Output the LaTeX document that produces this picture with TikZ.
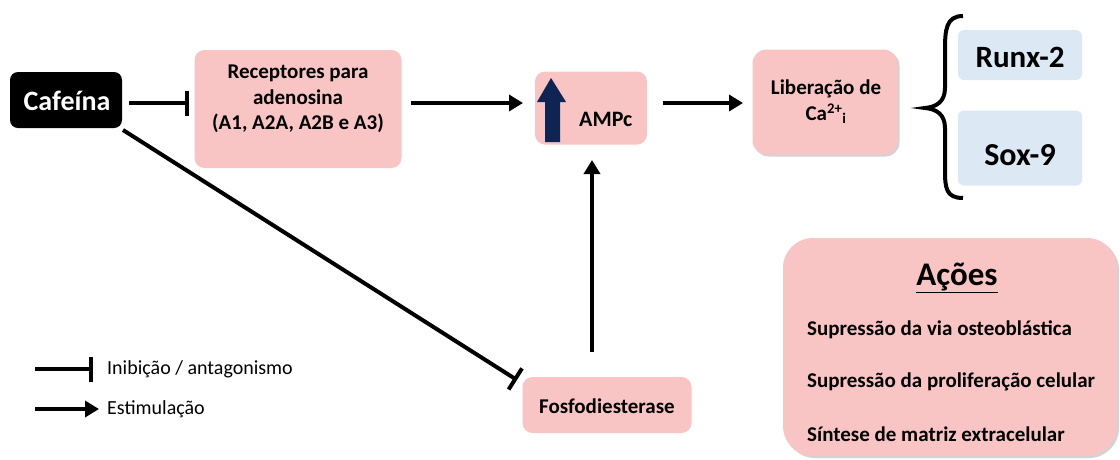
\documentclass[tikz,border=0pt]{standalone}
\usepackage{fontspec}
\setmainfont{Carlito}
\usetikzlibrary{arrows.meta,shadows}
\definecolor{pinkbox}{RGB}{248,196,196}
\definecolor{bluebox}{RGB}{220,232,244}
\definecolor{navy}{RGB}{16,36,84}
\begin{document}
\begin{tikzpicture}[x=1pt,y=-1pt,
  pbox/.style={fill=pinkbox,rounded corners=10pt,align=center,font=\bfseries,inner sep=0pt},
  bbox/.style={fill=bluebox,rounded corners=6pt,align=center,font=\bfseries,inner sep=0pt},
  txt/.style={inner sep=0pt},
  inh/.style={line width=4pt,-{Bar[width=25pt,line width=4pt]}},
  stim/.style={line width=4pt,-{Triangle[length=14pt,width=16pt]}},
  shd/.style={drop shadow={opacity=0.35,shadow xshift=2pt,shadow yshift=-2pt}}]
\useasboundingbox (0,0) rectangle (1120,459);
% nodes
\node[fill=black,rounded corners=8pt,minimum width=112pt,minimum height=56pt] (caf) at (66,100) {};
\node[txt,text=white,font=\bfseries\fontsize{28}{32}\selectfont] (caftxt) at (67,101) {Cafeína};
\node[pbox,minimum width=207pt,minimum height=118pt] (rec) at (298,109) {};
\node[txt,align=center,font=\bfseries\fontsize{21}{25.5}\selectfont] (rectxt) at (298,99) {Receptores para\\adenosina\\(A1, A2A, A2B e A3)};
\node[pbox,minimum width=112pt,minimum height=73pt] (amp) at (591,108) {};
\node[txt,font=\bfseries\fontsize{22}{24}\selectfont,anchor=west] (amptxt) at (579,119) {AMPc};
\fill[navy] (545,142) -- (545,102) -- (537,102) -- (551,78) -- (566,102) -- (560,102) -- (560,142) -- cycle;
\node[pbox,shd,minimum width=145pt,minimum height=105pt,rounded corners=14pt] (lib) at (825,102) {};
\node[txt,align=center,font=\bfseries\fontsize{21}{26}\selectfont] (libtxt) at (826,102) {Liberação de\\Ca\textsuperscript{2+}\textsubscript{i}};
\node[bbox,minimum width=124pt,minimum height=50pt] (runx) at (1020,55) {};
\node[txt,font=\bfseries\fontsize{31}{34}\selectfont] (runxtxt) at (1020,57) {Runx-2};
\node[bbox,minimum width=124pt,minimum height=75pt] (sox) at (1020,148) {};
\node[txt,font=\bfseries\fontsize{32}{34}\selectfont] (soxtxt) at (1020,155) {Sox-9};
\node[pbox,minimum width=169pt,minimum height=56pt] (fos) at (607,405) {};
\node[txt,font=\bfseries\fontsize{21}{24}\selectfont] (fostxt) at (607,406) {Fosfodiesterase};
\node[pbox,shd,minimum width=334pt,minimum height=218pt,rounded corners=30pt] (acoes) at (950,347) {};
\node[txt,font=\bfseries\fontsize{33}{36}\selectfont] (acti) at (957,278) {\underline{Ações}};
\node[txt,font=\bfseries\fontsize{21}{24}\selectfont,anchor=west] (a1) at (807,330) {Supressão da via osteoblástica};
\node[txt,font=\bfseries\fontsize{21}{24}\selectfont,anchor=west] (a2) at (807,382) {Supressão da proliferação celular};
\node[txt,font=\bfseries\fontsize{21}{24}\selectfont,anchor=west] (a3) at (807,434) {Síntese de matriz extracelular};
% brace
\draw[line width=4pt] (963,16) .. controls (946,16) and (945,30) .. (945,50) -- (945,88) .. controls (945,102) and (936,107) .. (925,108) .. controls (936,109) and (945,114) .. (945,128) -- (945,170) .. controls (945,188) and (946,198) .. (963,198);
% connectors
\coordinate (c1) at (129,103);
\coordinate (c2) at (189,103);
\draw[inh] (c1) -- (c2);
\coordinate (r1) at (411,103);
\coordinate (r2) at (523,103);
\draw[stim] (r1) -- (r2);
\coordinate (m1) at (663,103);
\coordinate (m2) at (743,103);
\draw[stim] (m1) -- (m2);
\coordinate (d1) at (123,130);
\coordinate (d2) at (517,380);
\draw[inh] (d1) -- (d2);
\coordinate (f1) at (592,352);
\coordinate (f2) at (592,160);
\draw[stim] (f1) -- (f2);
% legend
\coordinate (l1) at (35,369);
\coordinate (l2) at (93,369);
\draw[inh] (l1) -- (l2);
\node[txt,anchor=west,font=\fontsize{20}{22}\selectfont] (lt1) at (107,369) {Inibição / antagonismo};
\coordinate (l3) at (35,409);
\coordinate (l4) at (99,409);
\draw[stim] (l3) -- (l4);
\node[txt,anchor=west,font=\fontsize{20}{22}\selectfont] (lt2) at (107,409) {Estimulação};
\end{tikzpicture}
\end{document}
